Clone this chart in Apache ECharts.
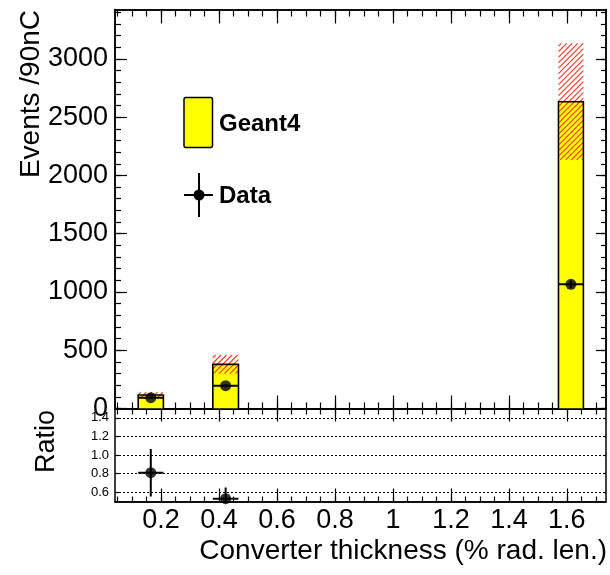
<!DOCTYPE html>
<html><head><meta charset="utf-8">
<script src="https://cdn.jsdelivr.net/npm/echarts@6/dist/echarts.min.js"></script>
<style>html,body{margin:0;padding:0;background:#fff}#c{width:610px;height:575px}</style>
</head><body><div id="c"></div>
<script>
// ---- data ----
const binLo = [0.121, 0.3785, 1.571];
const binHi = [0.208, 0.467, 1.657];
const geant4 = [116, 379, 2633];
const geant4Err = [25, 80, 500];
const dataVals = [93, 196, 1066];
const dataErr = [10, 14, 33];
const ratioVals = [0.81, 0.53, 0.40];
const ratioErr = [0.255, 0.12, 0.05];
const xMajor = [0.2, 0.4, 0.6, 0.8, 1, 1.2, 1.4, 1.6];
const xMinor = [0.05, 0.1, 0.15, 0.2, 0.25, 0.3, 0.35, 0.4, 0.45, 0.5, 0.55, 0.6, 0.65, 0.7, 0.75, 0.8, 0.85, 0.9, 0.95, 1, 1.05, 1.1, 1.15, 1.2, 1.25, 1.3, 1.35, 1.4, 1.45, 1.5, 1.55, 1.6, 1.65, 1.7];
const yMajor = [0, 500, 1000, 1500, 2000, 2500, 3000];
const yMinor = [0, 100, 200, 300, 400, 500, 600, 700, 800, 900, 1000, 1100, 1200, 1300, 1400, 1500, 1600, 1700, 1800, 1900, 2000, 2100, 2200, 2300, 2400, 2500, 2600, 2700, 2800, 2900, 3000, 3100, 3200, 3300, 3400];
const ratioTicks = [0.6, 0.8, 1.0, 1.2, 1.4];

const FONT = '"Liberation Sans", Arial, Helvetica, sans-serif';
const X_MIN = 0.041, X_MAX = 1.735, Y_MAX = 3424, R_MIN = 0.5, R_MAX = 1.5;
const HATCH_STEP = 5.5;

const mcRows = binLo.map((lo, i) => [lo, binHi[i], geant4[i], geant4Err[i]]);
const dataRows = binLo.map((lo, i) => [lo, binHi[i], dataVals[i], dataErr[i]]);
const dataPts = binLo.map((lo, i) => [(lo + binHi[i]) / 2, dataVals[i]]);
const ratioRows = binLo.map((lo, i) => [lo, binHi[i], ratioVals[i], ratioErr[i]]);
const ratioPts = binLo.map((lo, i) => [(lo + binHi[i]) / 2, ratioVals[i]]);

function xAx(grid, pos, ticks, len, labels) {
  return {
    type: 'value', gridIndex: grid, position: pos, min: X_MIN, max: X_MAX,
    splitLine: { show: false },
    axisLine: { show: true, onZero: false, lineStyle: { color: '#000', width: 1.5 } },
    axisTick: { show: true, inside: true, length: len, customValues: ticks, lineStyle: { color: '#000', width: 1.2 } },
    axisLabel: labels ? { show: true, customValues: xMajor, fontFamily: FONT, fontSize: 27, color: '#000', margin: 6,
      formatter: v => String(v) } : { show: false }
  };
}
function yAx(grid, pos, min, max, ticks, len, labels, split) {
  const a = {
    type: 'value', gridIndex: grid, position: pos, min: min, max: max,
    splitLine: split ? { show: true, lineStyle: { color: '#000', width: 1, type: [2, 2] } } : { show: false },
    axisLine: { show: true, onZero: false, lineStyle: { color: '#000', width: 1.5 } },
    axisTick: { show: true, inside: true, length: len, customValues: ticks, lineStyle: { color: '#000', width: 1.2 } },
    axisLabel: { show: false }
  };
  if (labels) a.axisLabel = labels;
  return a;
}

function hatchLines(x0, y0, x1, y1) {
  // '/' diagonal lines (x + y = c) clipped to the rectangle
  const out = [];
  const cStart = x0 + y0, cEnd = x1 + y1;
  for (let c = cStart + HATCH_STEP / 2; c < cEnd; c += HATCH_STEP) {
    const xa = Math.max(x0, c - y1), xb = Math.min(x1, c - y0);
    if (xb <= xa) continue;
    out.push({ type: 'line', shape: { x1: xa, y1: c - xa, x2: xb, y2: c - xb },
      style: { stroke: '#ff3322', lineWidth: 1.1 } });
  }
  return out;
}

function errBars(params, api) {
  const lo = api.value(0), hi = api.value(1), v = api.value(2), e = api.value(3);
  const c = (lo + hi) / 2;
  const a = api.coord([lo, v]), b = api.coord([hi, v]);
  const t = api.coord([c, v + e]), d = api.coord([c, v - e]);
  const st = { stroke: '#000', lineWidth: 2 };
  return { type: 'group', children: [
    { type: 'line', shape: { x1: a[0], y1: a[1], x2: b[0], y2: b[1] }, style: st },
    { type: 'line', shape: { x1: t[0], y1: t[1], x2: d[0], y2: d[1] }, style: st }
  ] };
}

const option = {
  animation: false,
  backgroundColor: '#fff',
  grid: [
    { left: 115, right: 4, top: 9.5, height: 399 },
    { left: 115, right: 4, top: 408.5, height: 93 }
  ],
  xAxis: [
    xAx(0, 'bottom', xMajor, 13, false),
    xAx(0, 'bottom', xMinor, 6, false),
    xAx(0, 'top', xMajor, 14, false),
    xAx(0, 'top', xMinor, 7, false),
    xAx(1, 'top', xMajor, 13, false),
    xAx(1, 'top', xMinor, 6, false),
    xAx(1, 'bottom', xMajor, 13, true),
    xAx(1, 'bottom', xMinor, 5, false)
  ],
  yAxis: [
    yAx(0, 'left', 0, Y_MAX, yMajor, 12,
      { show: true, customValues: yMajor, fontFamily: FONT, fontSize: 27, color: '#000', margin: 7,
        formatter: v => String(v) }, false),
    yAx(0, 'left', 0, Y_MAX, yMinor, 6, null, false),
    yAx(0, 'right', 0, Y_MAX, yMajor, 10, null, false),
    yAx(0, 'right', 0, Y_MAX, yMinor, 5, null, false),
    yAx(1, 'left', R_MIN, R_MAX, ratioTicks, 4,
      { show: true, customValues: ratioTicks, fontFamily: FONT, fontSize: 13, color: '#000', margin: 6,
        formatter: v => v.toFixed(1) }, true),
    yAx(1, 'right', R_MIN, R_MAX, ratioTicks, 3, null, false)
  ],
  series: [
    {
      name: 'Geant4', type: 'custom', xAxisIndex: 0, yAxisIndex: 0, data: mcRows,
      encode: { x: [0, 1], y: [2] }, clip: true,
      renderItem: function (params, api) {
        const lo = api.value(0), hi = api.value(1), v = api.value(2), e = api.value(3);
        const p0 = api.coord([lo, 0]), p1 = api.coord([hi, v]);
        const b0 = api.coord([lo, v - e]), b1 = api.coord([hi, v + e]);
        const children = [
          { type: 'rect', shape: { x: p0[0], y: p1[1], width: p1[0] - p0[0], height: p0[1] - p1[1] }, style: { fill: '#ffff00' } }
        ].concat(hatchLines(b0[0], b1[1], b1[0], b0[1]));
        children.push({ type: 'polyline', shape: { points: [[p0[0], p0[1]], [p0[0], p1[1]], [p1[0], p1[1]], [p1[0], p0[1]]] },
          style: { stroke: '#000', lineWidth: 1.6, fill: null } });
        return { type: 'group', children: children };
      }
    },
    {
      name: 'DataErr', type: 'custom', xAxisIndex: 0, yAxisIndex: 0, data: dataRows,
      encode: { x: [0, 1], y: [2] }, clip: true, renderItem: errBars, z: 3
    },
    {
      name: 'Data', type: 'scatter', xAxisIndex: 0, yAxisIndex: 0, data: dataPts,
      symbol: 'circle', symbolSize: 11, itemStyle: { color: '#000' }, z: 4
    },
    {
      name: 'RatioErr', type: 'custom', xAxisIndex: 4, yAxisIndex: 4, data: ratioRows,
      encode: { x: [0, 1], y: [2] }, clip: true, renderItem: errBars, z: 3
    },
    {
      name: 'Ratio', type: 'scatter', xAxisIndex: 4, yAxisIndex: 4, data: ratioPts, clip: true,
      symbol: 'circle', symbolSize: 11, itemStyle: { color: '#000' }, z: 4
    }
  ],
  graphic: [
    { type: 'text', x: 31, y: 10, rotation: Math.PI / 2,
      style: { text: 'Events /90nC', font: '28px ' + FONT, fill: '#000', align: 'right', verticalAlign: 'middle' } },
    { type: 'text', x: 47, y: 410, rotation: Math.PI / 2,
      style: { text: 'Ratio', font: '27px ' + FONT, fill: '#000', align: 'right', verticalAlign: 'middle' } },
    { type: 'text', x: 607, y: 551,
      style: { text: 'Converter thickness (% rad. len.)', font: '28px ' + FONT, fill: '#000', align: 'right', verticalAlign: 'middle' } },
    { type: 'rect', shape: { x: 184, y: 97.5, width: 28.5, height: 50, r: 2 },
      style: { fill: '#ffff00', stroke: '#000', lineWidth: 1.5 } },
    { type: 'text', x: 219, y: 124,
      style: { text: 'Geant4', font: 'bold 24px ' + FONT, fill: '#000', align: 'left', verticalAlign: 'middle' } },
    { type: 'line', shape: { x1: 184, y1: 195, x2: 213, y2: 195 }, style: { stroke: '#000', lineWidth: 2 } },
    { type: 'line', shape: { x1: 199, y1: 173, x2: 199, y2: 217 }, style: { stroke: '#000', lineWidth: 2 } },
    { type: 'circle', shape: { cx: 199, cy: 195, r: 5.5 }, style: { fill: '#000' } },
    { type: 'text', x: 219, y: 196,
      style: { text: 'Data', font: 'bold 24px ' + FONT, fill: '#000', align: 'left', verticalAlign: 'middle' } }
  ]
};
const chart = echarts.init(document.getElementById('c'), null, { renderer: 'canvas' });
chart.setOption(option);
</script>
</body></html>
